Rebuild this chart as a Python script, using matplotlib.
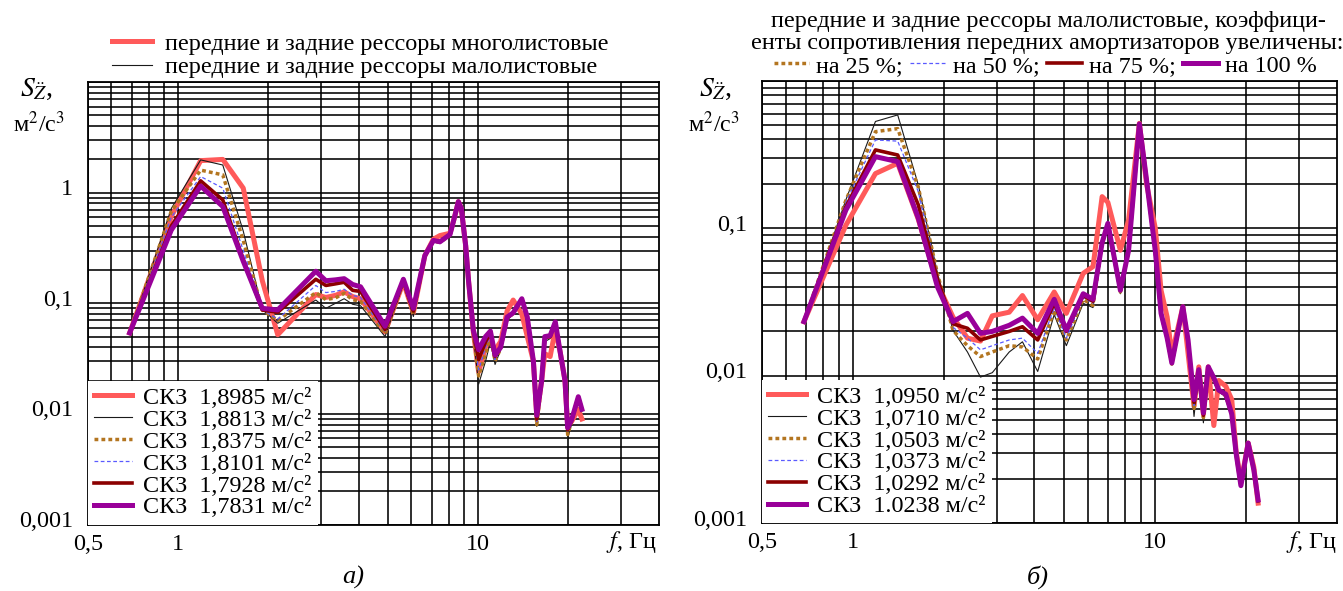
import numpy as np
import matplotlib
matplotlib.use("Agg")
import matplotlib.pyplot as plt
import matplotlib.transforms as mtransforms

plt.rcParams["font.family"] = ["Liberation Serif", "DejaVu Serif"]
plt.rcParams["mathtext.fontset"] = "stix"

# ---------------- data: panel а) ----------------
freq_a = [0.69, 0.95, 1.19, 1.41, 1.65, 1.91, 2.15, 2.88, 3.11, 3.35, 3.58, 3.82,
          4.06, 4.9, 5.64, 6.09, 6.65, 7.1, 7.47, 8.07, 8.35, 8.6, 8.8, 9.1, 9.3,
          9.65, 10.05, 10.6, 11.0, 11.4, 11.9, 12.5, 13.1, 14.0, 14.6, 15.3, 15.7,
          16.3, 16.7, 17.4, 18.1, 18.8, 19.5, 19.9, 20.5, 21.6, 22.2]

a_multi = [0.054, 0.61, 1.95, 2.0, 1.1, 0.16, 0.052, 0.12, 0.113, 0.118, 0.127, 0.115,
           0.11, 0.055, 0.155, 0.082, 0.27, 0.38, 0.41, 0.43, 0.6, 0.83, 0.72, 0.33, 0.16,
           0.055, 0.024, 0.04, 0.045, 0.038, 0.045, 0.085, 0.107, 0.08, 0.05, 0.03, 0.0095,
           0.02, 0.035, 0.033, 0.058, 0.036, 0.02, 0.0078, 0.0085, 0.011, 0.009]
a_few = [0.054, 0.72, 1.98, 1.78, 0.45, 0.088, 0.066, 0.107, 0.09, 0.1, 0.11, 0.098,
         0.095, 0.05, 0.15, 0.076, 0.26, 0.36, 0.35, 0.41, 0.6, 0.82, 0.7, 0.3, 0.14,
         0.05, 0.0186, 0.03, 0.045, 0.028, 0.038, 0.07, 0.08, 0.105, 0.07, 0.028, 0.0077,
         0.018, 0.045, 0.048, 0.065, 0.035, 0.019, 0.006, 0.008, 0.013, 0.0105]
a_25 = [0.054, 0.68, 1.6, 1.45, 0.37, 0.087, 0.07, 0.125, 0.108, 0.112, 0.123, 0.108,
        0.104, 0.053, 0.155, 0.08, 0.265, 0.365, 0.355, 0.415, 0.6, 0.82, 0.71, 0.31, 0.15,
        0.052, 0.022, 0.035, 0.05, 0.03, 0.039, 0.072, 0.081, 0.108, 0.072, 0.029, 0.008,
        0.019, 0.047, 0.05, 0.066, 0.036, 0.02, 0.0065, 0.0085, 0.014, 0.0108]
a_50 = [0.054, 0.6, 1.4, 1.1, 0.3, 0.087, 0.072, 0.145, 0.125, 0.128, 0.134, 0.118,
        0.113, 0.055, 0.158, 0.083, 0.27, 0.37, 0.36, 0.42, 0.6, 0.83, 0.72, 0.32, 0.155,
        0.054, 0.025, 0.04, 0.052, 0.031, 0.039, 0.073, 0.082, 0.109, 0.073, 0.03, 0.0085,
        0.019, 0.048, 0.05, 0.067, 0.036, 0.02, 0.007, 0.0087, 0.014, 0.0109]
a_75 = [0.054, 0.5, 1.28, 0.86, 0.25, 0.087, 0.083, 0.165, 0.145, 0.15, 0.155, 0.131,
        0.128, 0.058, 0.16, 0.085, 0.27, 0.37, 0.36, 0.42, 0.6, 0.83, 0.72, 0.33, 0.16,
        0.056, 0.031, 0.045, 0.054, 0.033, 0.04, 0.074, 0.082, 0.11, 0.074, 0.03, 0.009,
        0.02, 0.049, 0.05, 0.068, 0.036, 0.02, 0.0072, 0.0088, 0.0143, 0.011]
a_100 = [0.054, 0.46, 1.15, 0.75, 0.24, 0.09, 0.087, 0.195, 0.16, 0.163, 0.167, 0.148,
         0.141, 0.062, 0.165, 0.09, 0.27, 0.37, 0.36, 0.42, 0.6, 0.83, 0.72, 0.33, 0.16,
         0.057, 0.038, 0.05, 0.056, 0.034, 0.04, 0.075, 0.082, 0.11, 0.075, 0.03, 0.0097,
         0.02, 0.05, 0.051, 0.068, 0.036, 0.02, 0.0075, 0.0088, 0.0143, 0.011]
rms_a = ["1,8985", "1,8813", "1,8375", "1,8101", "1,7928", "1,7831"]

# ---------------- data: panel б) ----------------
freq_b = [0.69, 0.95, 1.19, 1.41, 1.65, 1.91, 2.15, 2.4, 2.65, 2.9, 3.3, 3.65, 4.1,
          4.65, 5.1, 5.8, 6.25, 6.7, 7.0, 7.7, 8.2, 8.9, 9.4, 10.05, 10.5, 11.0, 11.4,
          12.4, 12.9, 13.5, 14.0, 14.5, 15.05, 15.7, 16.3, 17.2, 18.0, 18.6, 19.3, 20.4,
          21.3, 22.0]

b_multi = [0.0233, 0.105, 0.235, 0.276, 0.115, 0.042, 0.025, 0.018, 0.0172, 0.0255,
           0.027, 0.035, 0.024, 0.037, 0.0265, 0.0495, 0.055, 0.164, 0.15, 0.071, 0.114,
           0.515, 0.2, 0.1, 0.038, 0.025, 0.014, 0.0294, 0.0142, 0.0062, 0.0115, 0.0055,
           0.0115, 0.0046, 0.0093, 0.0085, 0.0069, 0.0031, 0.0019, 0.0035, 0.0024, 0.00137]
b_few = [0.0233, 0.156, 0.53, 0.587, 0.197, 0.0496, 0.0203, 0.0145, 0.0098, 0.0105,
         0.0145, 0.017, 0.0107, 0.026, 0.016, 0.031, 0.029, 0.077, 0.105, 0.036, 0.07,
         0.5, 0.21, 0.068, 0.026, 0.0178, 0.012, 0.0288, 0.0165, 0.0053, 0.0107, 0.0048,
         0.0112, 0.0093, 0.0078, 0.0072, 0.0053, 0.0029, 0.0018, 0.0034, 0.0023, 0.0014]
b_25 = [0.0233, 0.155, 0.452, 0.474, 0.19, 0.049, 0.0203, 0.016, 0.0135, 0.0145,
        0.016, 0.0157, 0.013, 0.028, 0.0175, 0.033, 0.03, 0.078, 0.106, 0.037, 0.07,
        0.5, 0.21, 0.069, 0.026, 0.018, 0.012, 0.029, 0.0168, 0.006, 0.0108, 0.0052,
        0.0113, 0.0094, 0.0079, 0.0073, 0.0054, 0.003, 0.0018, 0.0035, 0.0023, 0.0014]
b_50 = [0.0233, 0.15, 0.397, 0.39, 0.177, 0.048, 0.0213, 0.018, 0.015, 0.016,
        0.0175, 0.018, 0.0142, 0.029, 0.018, 0.034, 0.031, 0.079, 0.107, 0.038, 0.071,
        0.51, 0.213, 0.07, 0.0265, 0.018, 0.0122, 0.0292, 0.017, 0.0063, 0.011, 0.0053,
        0.0114, 0.0095, 0.008, 0.0074, 0.0055, 0.003, 0.0018, 0.0035, 0.0023, 0.00142]
b_75 = [0.0233, 0.14, 0.34, 0.314, 0.144, 0.045, 0.0225, 0.021, 0.0175, 0.0185,
        0.02, 0.0215, 0.0175, 0.031, 0.02, 0.035, 0.032, 0.08, 0.108, 0.038, 0.071,
        0.51, 0.213, 0.07, 0.0265, 0.018, 0.0122, 0.0294, 0.0172, 0.0066, 0.011, 0.0054,
        0.0114, 0.0095, 0.008, 0.0074, 0.0055, 0.003, 0.0018, 0.0035, 0.0023, 0.00142]
b_100 = [0.0233, 0.133, 0.306, 0.283, 0.117, 0.04, 0.0233, 0.0265, 0.0194, 0.02,
         0.022, 0.0246, 0.0194, 0.033, 0.0204, 0.036, 0.033, 0.08, 0.108, 0.038, 0.071,
         0.51, 0.213, 0.07, 0.0265, 0.018, 0.0122, 0.0294, 0.0175, 0.0069, 0.011, 0.0056,
         0.0115, 0.0097, 0.008, 0.0075, 0.0055, 0.003, 0.0018, 0.0035, 0.0023, 0.00144]
rms_b = ["1,0950", "1,0710", "1,0503", "1,0373", "1,0292", "1.0238"]

x_ticks = [0.5, 1, 10]
x_tick_labels = ["0,5", "1", "10"]

# ---------------- styles ----------------
line_styles = [
    dict(color="#ff5a5a", lw=3.6),                       # многолистовые
    dict(color="#1a1a1a", lw=0.8),                       # малолистовые
    dict(color="#b37520", lw=2.5, ls=(0, (1.1, 0.9))),   # +25 %
    dict(color="#5a5aff", lw=0.9, ls=(0, (3, 2))),       # +50 %
    dict(color="#8b0000", lw=2.6),                       # +75 %
    dict(color="#990099", lw=3.6),                       # +100 %
]

W, H = 1343, 591
FS = 17.4
fig = plt.figure(figsize=(W / 100, H / 100), dpi=100)


def px_axes(x0, x1, ytop, ybot):
    return fig.add_axes([x0 / W, 1 - ybot / H, (x1 - x0) / W, (ybot - ytop) / H])


def setup(ax, ymin, ymax, ymajor, ylabels):
    ax.set_xscale("log")
    ax.set_yscale("log")
    ax.set_xlim(0.5, 40)
    ax.set_ylim(ymin, ymax)
    ax.set_xticks(x_ticks, labels=x_tick_labels)
    ax.set_xticks([0.6, 0.7, 0.8, 0.9, 2, 3, 4, 5, 6, 7, 8, 9, 20, 30], minor=True)
    ax.set_yticks(ymajor, labels=ylabels)
    minors = [m * d for d in ymajor[:-1] for m in range(2, 10)]
    ax.set_yticks(minors, minor=True)
    ax.yaxis.set_minor_formatter(plt.NullFormatter())
    ax.xaxis.set_minor_formatter(plt.NullFormatter())
    ax.grid(True, which="both", color="k", lw=1.15)
    ax.tick_params(which="both", length=0, labelsize=FS)
    ax.tick_params(axis="x", pad=6.5)
    ax.tick_params(axis="y", pad=10.5)
    off = mtransforms.ScaledTranslation(0, 5.5 / 100, fig.dpi_scale_trans)
    for lab in ax.get_yticklabels():
        lab.set_transform(lab.get_transform() + off)
    for s in ax.spines.values():
        s.set_linewidth(1.3)
        s.set_color("k")


def draw(ax, freq, series):
    handles = []
    for vals, st in zip(series, line_styles):
        (ln,) = ax.plot(freq, vals, **st)
        handles.append(ln)
    return handles


def rms_legend(ax, handles, rms):
    labels = ["СКЗ  " + r + " м/с²" for r in rms]
    leg = ax.legend(handles, labels, loc="lower left", bbox_to_anchor=(0, 0),
                    borderaxespad=0, fontsize=FS, handlelength=1.6,
                    handletextpad=0.45, labelspacing=0.0, borderpad=0.25,
                    frameon=True, fancybox=False, edgecolor="none",
                    facecolor="white", framealpha=1)
    leg.set_zorder(10)
    ax.add_artist(leg)
    return leg


# ---------------- panel а) ----------------
ax_a = px_axes(87.7, 658.6, 82.1, 524.5)
setup(ax_a, 0.001, 10, [0.001, 0.01, 0.1, 1, 10], ["0,001", "0,01", "0,1", "1", ""])
h_a = draw(ax_a, freq_a, [a_multi, a_few, a_25, a_50, a_75, a_100])
rms_legend(ax_a, h_a, rms_a)

fig.legend(h_a[:2], ["передние и задние рессоры многолистовые",
                     "передние и задние рессоры малолистовые"],
           loc="upper left", bbox_to_anchor=(112 / W, 1 - 33 / H), frameon=False,
           fontsize=FS, handlelength=1.65, handletextpad=0.55, labelspacing=0.05,
           borderpad=0, borderaxespad=0)

# ---------------- panel б) ----------------
ax_b = px_axes(761.7, 1336.5, 80.8, 523.3)
setup(ax_b, 0.001, 1, [0.001, 0.01, 0.1, 1], ["0,001", "0,01", "0,1", ""])
h_b = draw(ax_b, freq_b, [b_multi, b_few, b_25, b_50, b_75, b_100])
rms_legend(ax_b, h_b, rms_b)

fig.text(1048 / W, 1 - 22 / H, "передние и задние рессоры малолистовые, коэффици-",
         ha="center", va="center", fontsize=FS)
fig.text(1047 / W, 1 - 44 / H, "енты сопротивления передних амортизаторов увеличены:",
         ha="center", va="center", fontsize=FS)
fig.legend(h_b[2:], ["на 25 %;", "на 50 %;", "на 75 %;", "на 100 %"], ncol=4,
           loc="upper left", bbox_to_anchor=(774 / W, 1 - 55 / H), frameon=False,
           fontsize=FS, handlelength=1.45, handletextpad=0.3, columnspacing=0.3,
           borderpad=0, borderaxespad=0)

# ---------------- axis captions ----------------
for x_s, x_u, x_f, x_p, tag in [(20, 13, 631, 353, "а)"), (699, 688, 1311, 1038, "б)")]:
    fig.text(x_s / W, 1 - 89 / H, r"$S_{\ddot{Z}}$,", ha="left", va="center", fontsize=20)
    fig.text(x_u / W, 1 - 124 / H, "м$^2$/с$^3$", ha="left", va="center", fontsize=FS)
    fig.text(x_f / W, 1 - 542 / H, "$f$, Гц", ha="center", va="center", fontsize=FS)
    fig.text(x_p / W, 1 - 577 / H, tag, ha="center", va="center", fontsize=19,
             style="italic")

fig.savefig("out.png", dpi=100)
